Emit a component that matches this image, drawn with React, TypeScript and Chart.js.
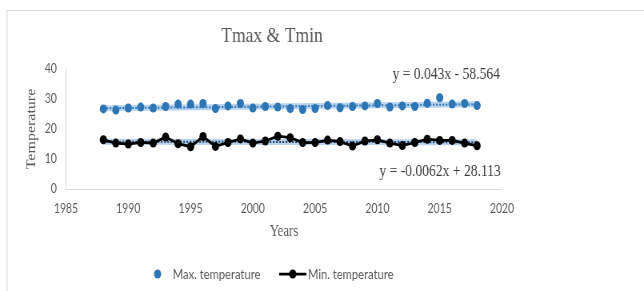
import React, { useEffect, useRef } from "react";
import { Chart, registerables } from "chart.js";

Chart.register(...registerables);

// ---- data ----
const years = [1988, 1989, 1990, 1991, 1992, 1993, 1994, 1995, 1996, 1997, 1998, 1999, 2000, 2001, 2002, 2003, 2004, 2005, 2006, 2007, 2008, 2009, 2010, 2011, 2012, 2013, 2014, 2015, 2016, 2017, 2018];
const maxTemp = [26.7, 26.3, 27.0, 27.3, 27.0, 27.5, 28.3, 28.3, 28.5, 26.8, 27.7, 28.5, 27.0, 27.5, 27.3, 26.8, 26.5, 26.8, 27.8, 27.1, 27.5, 27.7, 28.5, 27.3, 27.7, 27.5, 28.6, 30.4, 28.3, 28.5, 27.8];
const minTemp = [16.4, 15.3, 15.0, 15.5, 15.3, 17.3, 15.1, 14.1, 17.5, 14.2, 15.5, 16.7, 15.3, 16.0, 17.6, 17.1, 15.5, 15.5, 16.3, 15.8, 14.3, 16.0, 16.4, 15.3, 14.5, 15.5, 16.6, 16.2, 16.2, 15.3, 14.4];
const maxTrendSlope = 0.043;
const maxTrendIntercept = -58.564;
const minTrendSlope = -0.0062;
const minTrendIntercept = 28.113;
const xMin = 1985;
const xMax = 2020;
const xStep = 5;
const yMin = 0;
const yMax = 40;
const yStep = 10;
const titleText = "Tmax & Tmin";
const xTitle = "Years";
const yTitle = "Temperature";
const maxLabel = "Max. temperature";
const minLabel = "Min. temperature";
const maxEquation = "y = 0.043x - 58.564";
const minEquation = "y = -0.0062x + 28.113";

// ---- rendering constants ----
const SX = 0.8; // horizontal squeeze of original picture
const W = 805;
const H = 291;
const BLUE = "#2E75B6";
const GLOW = "rgba(160,196,232,0.75)";
const GREY = "#595959";
const SERIF = "'Liberation Serif', 'Times New Roman', serif";
const SANS = "Lato, 'Open Sans', sans-serif";

const trendPoints = (slope: number, intercept: number) => {
  const a = years[0];
  const b = years[years.length - 1];
  return [
    { x: a, y: slope * a + intercept },
    { x: b, y: slope * b + intercept },
  ];
};

const decorPlugin = {
  id: "decor",
  beforeDraw(chart: any) {
    const ctx = chart.ctx;
    ctx.save();
    ctx.fillStyle = "#ffffff";
    ctx.fillRect(0, 0, chart.width, chart.height);
    ctx.strokeStyle = "#d9d9d9";
    ctx.lineWidth = 1.2;
    ctx.beginPath();
    ctx.moveTo(8.75, chart.height);
    ctx.lineTo(8.75, 10.5);
    ctx.lineTo(chart.width, 10.5);
    ctx.stroke();
    ctx.restore();
  },
  afterDraw(chart: any) {
    const ctx = chart.ctx;
    ctx.save();
    // title
    ctx.fillStyle = GREY;
    ctx.font = `22px ${SERIF}`;
    ctx.textAlign = "center";
    ctx.textBaseline = "alphabetic";
    ctx.fillText(titleText, 340, 42);
    // equations
    ctx.fillStyle = "#404040";
    ctx.font = `17px ${SERIF}`;
    ctx.textAlign = "right";
    ctx.fillText(maxEquation, 625, 79);
    ctx.fillText(minEquation, 626, 176);
    // legend
    const ly = 274;
    ctx.fillStyle = BLUE;
    ctx.beginPath();
    ctx.arc(197, ly, 4.5, 0, Math.PI * 2);
    ctx.fill();
    ctx.strokeStyle = "#000000";
    ctx.lineWidth = 2.75;
    ctx.beginPath();
    ctx.moveTo(349, ly);
    ctx.lineTo(383, ly);
    ctx.stroke();
    ctx.fillStyle = "#000000";
    ctx.beginPath();
    ctx.arc(366, ly, 4.5, 0, Math.PI * 2);
    ctx.fill();
    ctx.fillStyle = GREY;
    ctx.font = `14px ${SANS}`;
    ctx.textAlign = "left";
    ctx.textBaseline = "middle";
    ctx.fillText(maxLabel, 216, ly);
    ctx.fillText(minLabel, 385, ly);
    ctx.restore();
  },
};

export default function App() {
  const ref = useRef<HTMLCanvasElement | null>(null);

  useEffect(() => {
    if (!ref.current) return;
    const chart = new Chart(ref.current, {
      type: "scatter",
      data: {
        datasets: [
          {
            label: maxLabel,
            data: years.map((x, i) => ({ x, y: maxTemp[i] })),
            showLine: false,
            pointRadius: 4.5,
            pointBackgroundColor: BLUE,
            pointBorderColor: BLUE,
            pointBorderWidth: 0,
          },
          {
            label: minLabel,
            data: years.map((x, i) => ({ x, y: minTemp[i] })),
            showLine: true,
            borderColor: "#000000",
            borderWidth: 2.75,
            pointRadius: 4.5,
            pointBackgroundColor: "#000000",
            pointBorderColor: "#000000",
            pointBorderWidth: 0,
          },
          {
            label: "max trend",
            data: trendPoints(maxTrendSlope, maxTrendIntercept),
            showLine: true,
            borderColor: BLUE,
            borderWidth: 2,
            borderDash: [2, 2],
            pointRadius: 0,
          },
          {
            label: "min trend",
            data: trendPoints(minTrendSlope, minTrendIntercept),
            showLine: true,
            borderColor: "#1f3f66",
            borderWidth: 2,
            borderDash: [2, 2],
            pointRadius: 0,
          },
          {
            label: "max glow",
            data: trendPoints(maxTrendSlope, maxTrendIntercept),
            showLine: true,
            borderColor: GLOW,
            borderWidth: 6,
            pointRadius: 0,
          },
          {
            label: "min glow",
            data: trendPoints(minTrendSlope, minTrendIntercept),
            showLine: true,
            borderColor: GLOW,
            borderWidth: 6,
            pointRadius: 0,
          },
        ],
      },
      options: {
        responsive: false,
        animation: false,
        devicePixelRatio: 1,
        layout: { padding: { left: 0, top: 69, right: W - 627.5, bottom: 50 } },
        plugins: {
          legend: { display: false },
          title: { display: false },
          tooltip: { enabled: false },
        },
        scales: {
          x: {
            type: "linear",
            min: xMin,
            max: xMax,
            grid: { display: false, drawTicks: false },
            border: { display: true, color: "#d9d9d9", width: 1 },
            ticks: {
              stepSize: xStep,
              padding: 12,
              color: GREY,
              font: { family: SANS, size: 13 },
              callback: (v: any) => String(v),
            },
            title: {
              display: true,
              text: xTitle,
              color: GREY,
              font: { family: SERIF, size: 16 },
              padding: { top: 0, bottom: 0 },
            },
            afterFit: (s: any) => {
              s.height = 52;
            },
          },
          y: {
            min: yMin,
            max: yMax,
            grid: { display: false, drawTicks: false },
            border: { display: true, color: "#d9d9d9", width: 1 },
            ticks: {
              stepSize: yStep,
              padding: 11.5,
              color: GREY,
              font: { family: SANS, size: 13 },
            },
            title: {
              display: true,
              text: yTitle,
              color: GREY,
              font: { family: SERIF, size: 16 },
              padding: { top: 30.4, bottom: 0 },
            },
            afterFit: (s: any) => {
              s.width = 82.5;
            },
          },
        },
      },
      plugins: [decorPlugin],
    } as any);
    return () => chart.destroy();
  }, []);

  return (
    <div
      style={{
        position: "absolute",
        left: 0,
        top: 0,
        width: 644,
        height: 291,
        overflow: "hidden",
        background: "#fff",
      }}
    >
      <canvas
        ref={ref}
        width={W}
        height={H}
        style={{
          width: W,
          height: H,
          transform: `scaleX(${SX})`,
          transformOrigin: "0 0",
          display: "block",
        }}
      />
    </div>
  );
}
